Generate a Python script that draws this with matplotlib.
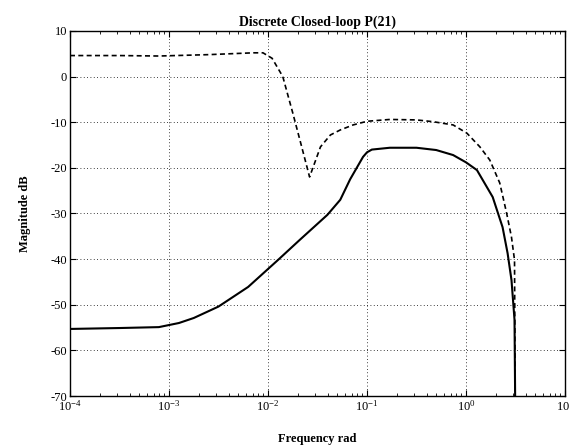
import matplotlib
matplotlib.use("Agg")
import matplotlib.pyplot as plt
from matplotlib.ticker import LogLocator, MultipleLocator

plt.rcParams['font.family'] = ['Liberation Serif', 'DejaVu Serif']
plt.rcParams['mathtext.fontset'] = 'custom'
plt.rcParams['mathtext.rm'] = 'Liberation Serif'
plt.rcParams['mathtext.it'] = 'Liberation Serif'
plt.rcParams['axes.unicode_minus'] = False

# frequency (rad) / magnitude (dB)
solid_w = [1e-4, 3.16e-4, 7.9e-4, 1.26e-3, 1.78e-3, 3.16e-3, 6.3e-3, 0.0126,
           0.0209, 0.0398, 0.0537, 0.0676, 0.0912, 0.1, 0.112, 0.17, 0.316, 0.5,
           0.741, 1.0, 1.29, 1.86, 2.34, 2.63, 2.88, 3.09, 3.14]
solid_db = [-55.3, -55.1, -54.9, -54.0, -52.9, -50.4, -46.1, -40.2,
            -35.8, -30.3, -27.0, -22.5, -17.6, -16.6, -16.0, -15.6, -15.6, -16.1,
            -17.2, -18.8, -20.5, -26.4, -33.0, -38.7, -44.6, -53.3, -72.0]

dash_w = [1e-4, 3.16e-4, 7.9e-4, 2.5e-3, 7.1e-3, 8.9e-3, 0.011, 0.0141,
          0.0178, 0.0219, 0.0263, 0.0339, 0.0427, 0.0537, 0.0724, 0.1, 0.17,
          0.316, 0.468, 0.741, 1.02, 1.38, 1.74, 2.19, 2.57, 2.88, 3.09, 3.14]
dash_db = [4.6, 4.6, 4.5, 4.8, 5.2, 5.2, 4.0, 0.0,
           -8.0, -15.4, -22.0, -15.4, -12.8, -11.7, -10.6, -9.8, -9.4,
           -9.5, -9.9, -10.6, -12.4, -15.4, -18.3, -23.3, -29.9, -35.2, -40.2, -72.0]

fig = plt.figure(figsize=(5.69, 4.48), dpi=100)
ax = fig.add_axes([0.123, 0.116, 0.870, 0.815])

ax.semilogx(solid_w, solid_db, color='k', lw=1.5)
ax.semilogx(dash_w, dash_db, color='k', lw=1.2, linestyle=(0, (3, 2)))

ax.set_xlim(1e-4, 10)
ax.set_ylim(-70, 10)
ax.yaxis.set_major_locator(MultipleLocator(10))
ax.xaxis.set_major_locator(LogLocator(base=10, numticks=10))
ax.xaxis.set_minor_locator(LogLocator(base=10, subs=range(2, 10), numticks=20))

ax.grid(True, which='major', color='k', linestyle=(0, (1, 3)), linewidth=0.6)
ax.tick_params(which='both', direction='in', top=True, right=True,
               labelsize=9, colors='k', pad=2)
ax.tick_params(which='major', length=4)
ax.tick_params(which='minor', length=2)
for sp in ax.spines.values():
    sp.set_linewidth(1.0)

ax.set_title('Discrete Closed-loop P(21)', fontsize=10, fontweight='bold', pad=4)
ax.set_ylabel('Magnitude dB', fontsize=9, fontweight='bold', labelpad=14)
ax.set_xlabel('Frequency rad', fontsize=9, fontweight='bold', labelpad=14)

fig.savefig('out.png', dpi=100)
